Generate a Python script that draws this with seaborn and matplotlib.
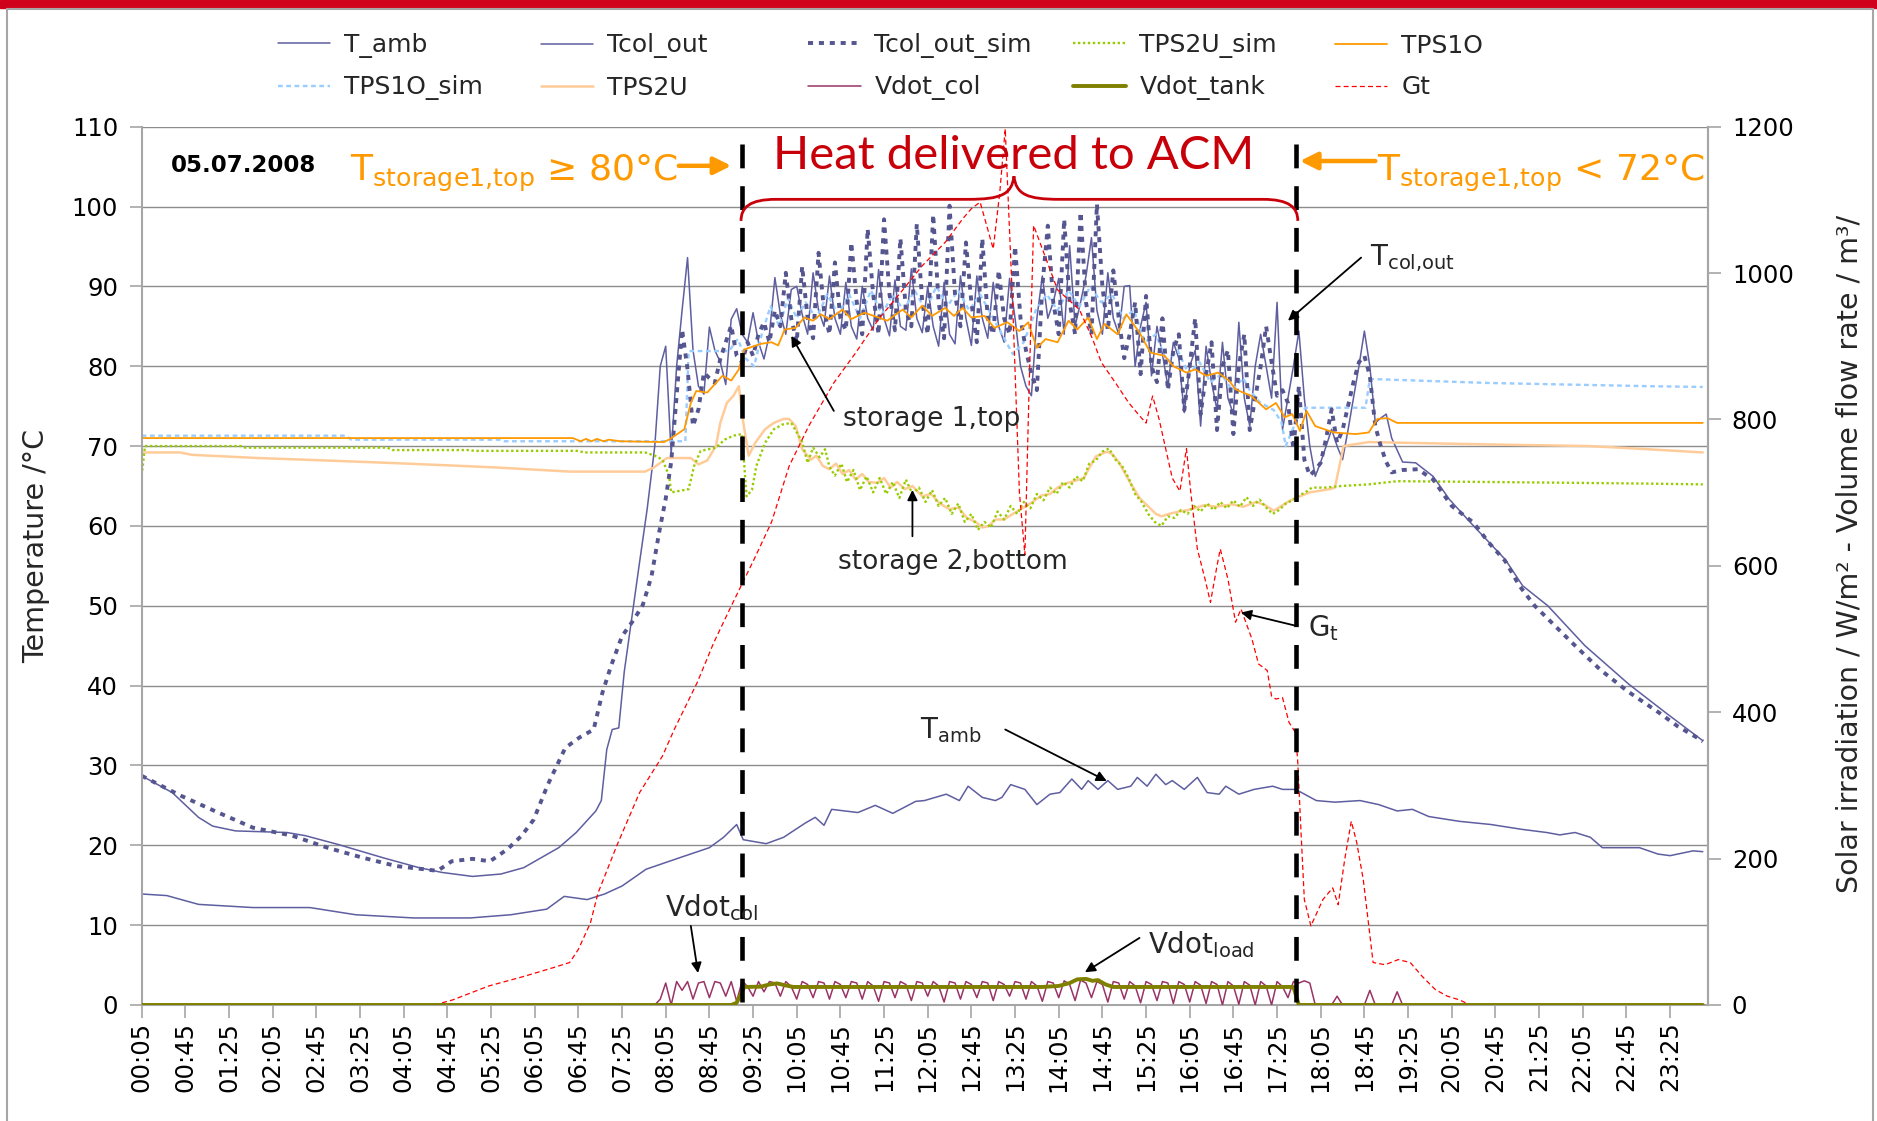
import numpy as np
import pandas as pd
import matplotlib
matplotlib.use("Agg")
import matplotlib.pyplot as plt
import seaborn as sns
from matplotlib.path import Path
from matplotlib.patches import PathPatch, Rectangle

# ---------------------------------------------------------------- data
# time in minutes after midnight (5-minute categories), 05.07.2008
XTICK_MIN = [5 + 40 * i for i in range(36)]
XTICK_LABELS = ["00:05", "00:45", "01:25", "02:05", "02:45", "03:25", "04:05", "04:45",
                "05:25", "06:05", "06:45", "07:25", "08:05", "08:45", "09:25", "10:05",
                "10:45", "11:25", "12:05", "12:45", "13:25", "14:05", "14:45", "15:25",
                "16:05", "16:45", "17:25", "18:05", "18:45", "19:25", "20:05", "20:45",
                "21:25", "22:05", "22:45", "23:25"]
TEMP_TICKS = [0, 10, 20, 30, 40, 50, 60, 70, 80, 90, 100, 110]
RIGHT_TICKS = [0, 200, 400, 600, 800, 1000, 1200]

T_AMB = [(5, 13.9), (28, 13.7), (57, 12.6), (107, 12.2), (159, 12.2), (201, 11.3), (254, 10.9),
         (306, 10.9), (343, 11.3), (376, 12.0), (392, 13.6), (413, 13.2), (429, 13.9), (445, 14.9),
         (467, 17.0), (499, 18.5), (525, 19.7), (538, 21.0), (550, 22.6), (556, 20.7), (577, 20.2),
         (593, 21.0), (613, 22.8), (622, 23.5), (630, 22.5), (637, 24.5), (661, 24.1), (677, 25.0),
         (693, 24.0), (714, 25.5), (722, 25.6), (742, 26.4), (754, 25.6), (762, 27.4), (775, 26.0),
         (787, 25.6), (793, 26.0), (801, 27.6), (814, 27.0), (825, 25.1), (837, 26.4), (846, 26.6),
         (857, 28.3), (866, 27.0), (872, 28.1), (881, 27.0), (890, 28.1), (899, 27.0), (911, 27.4),
         (917, 28.5), (926, 27.4), (934, 28.9), (943, 27.6), (949, 28.1), (960, 27.0), (972, 28.5),
         (981, 26.6), (992, 26.4), (998, 27.4), (1010, 26.4), (1024, 27.0), (1041, 27.4),
         (1050, 27.0), (1062, 27.0), (1081, 25.6), (1098, 25.4), (1121, 25.6), (1138, 25.1),
         (1155, 24.3), (1169, 24.5), (1184, 23.6), (1212, 23.0), (1241, 22.6), (1269, 22.0),
         (1292, 21.6), (1304, 21.3), (1318, 21.6), (1332, 21.0), (1343, 19.7), (1377, 19.7),
         (1394, 18.9), (1405, 18.7), (1426, 19.3), (1435, 19.2)]

TCOL_OUT_EARLY = [(5, 28.7), (33, 26.6), (57, 23.5), (70, 22.4), (91, 21.8), (138, 21.6),
                  (155, 21.2), (185, 20.1), (227, 18.4), (259, 17.2), (280, 16.6), (308, 16.1),
                  (334, 16.4), (355, 17.2), (387, 19.7), (403, 21.6), (421, 24.3), (426, 25.6),
                  (431, 32.0), (436, 34.5), (442, 34.7), (447, 41.7), (461, 55.4), (468, 62.1)]
TCOL_OUT_DAY_START = 475          # 5-minute values from 07:55
TCOL_OUT_DAY = [70, 80, 82.5, 69, 80, 87, 93.6, 82, 77.5, 76.5, 84.9, 82,
                80.5, 77.7, 85.9, 87.2, 84, 83, 86.7, 83, 80.9, 84, 91.1, 86.5,
                84, 89.6, 90, 86.5, 84, 91.7, 87, 85, 91.3, 86, 84, 90.5,
                85, 83.4, 90, 86, 84.5, 92.1, 86, 83.8, 90.8, 85, 84.5, 92.2,
                86, 84.2, 90, 85, 82.5, 90.5, 84, 82.8, 91.3, 86, 82.6, 91.3,
                86, 83.5, 90.5, 85, 83, 91, 86, 80, 77.5, 76.3, 86, 91.3,
                86, 88, 91, 84, 95.1, 85, 88, 91.3, 96.1, 87, 84, 91.7,
                86, 84, 90, 90.1, 80, 85, 88, 78.8, 85, 81.5, 77.5, 83,
                81, 74.2, 80, 82, 72.5, 82.5, 78, 74.5, 83, 76, 74, 85.5,
                76, 72.5, 80, 84, 80, 76, 88, 72.1, 76, 80, 84.4, 76,
                70, 66.2, 68, 70, 72.1, 70, 68.3, 72, 76, 80, 84.4, 80,
                72.9, 73.5, 74, 71]
TCOL_OUT_LATE = [(1160, 68.0), (1172, 67.9), (1188, 66.2), (1203, 63.3), (1225, 60.0),
                 (1254, 55.8), (1270, 52.5), (1293, 50.0), (1327, 45.0), (1367, 40.2),
                 (1401, 36.6), (1435, 33.1)]

TCOL_SIM_EARLY = [(5, 28.7), (41, 26.2), (75, 24.1), (107, 22.2), (143, 21.2), (175, 19.7),
                  (206, 18.5), (238, 17.4), (276, 16.8), (289, 18.0), (308, 18.3), (324, 18.0),
                  (340, 19.5), (353, 21.2), (364, 23.2), (377, 27.6), (385, 29.9), (393, 32.2),
                  (406, 33.5), (419, 34.5), (427, 39.1), (435, 42.5), (445, 46.2), (456, 48.3),
                  (464, 50.1), (472, 53.7), (479, 59.2), (485, 63.4)]
TCOL_SIM_DAY_START = 490          # 5-minute values from 08:10
TCOL_SIM_DAY = [68, 76.3, 84.6, 79.6, 72.5, 74.6, 79.2, 78.5, 77.9, 80.9, 83, 85.1,
                81.3, 80.5, 83, 81.3, 84, 85.5, 83, 87, 85, 91.7, 86, 83,
                92.5, 86, 83.5, 94.2, 87, 84, 93, 86, 84.5, 95.5, 88, 84,
                97.2, 89, 84, 98.4, 89, 84.5, 96, 87, 85, 97.8, 88, 84,
                99, 88, 83.5, 100.1, 89, 85, 95.5, 88, 83, 96, 86, 84,
                92, 86, 84, 95, 86, 82, 79, 77, 90, 97.6, 88, 84,
                98.4, 88, 84, 99.3, 88, 84, 100.3, 90, 84.5, 92, 86, 81,
                84, 88, 79, 88.8, 80, 78, 86, 77, 82, 84, 74.5, 80,
                86, 74, 79, 83, 72, 80, 82, 71.5, 80, 84, 72, 76,
                80, 85, 80.5, 76.3, 77, 75.4, 69.6, 77.5, 68.3, 66.3, 67, 67.9,
                71, 74.6, 70.4, 72, 75, 78, 80.5, 81.3, 78.8, 72.5, 70, 68,
                66.7]
TCOL_SIM_LATE = [(1160, 67.0), (1174, 67.1), (1188, 65.8), (1205, 62.5), (1225, 60.4),
                 (1239, 57.9), (1254, 55.6), (1267, 52.5), (1281, 50.0), (1315, 45.4),
                 (1341, 42.0), (1366, 39.3), (1395, 36.6), (1412, 34.9), (1432, 33.3), (1435, 33.0)]

TPS1O = [(5, 71.0), (400, 71.0), (407, 70.6), (412, 70.9), (417, 70.6), (422, 70.9), (428, 70.6),
         (433, 70.8), (443, 70.6), (483, 70.5), (488, 70.8), (502, 72.1), (508, 75.4), (513, 76.9),
         (523, 76.7), (531, 77.9), (537, 78.8), (545, 78.2), (552, 79.6), (557, 82.1), (572, 82.8),
         (582, 83.0), (588, 82.6), (594, 84.6), (604, 84.8), (612, 86.1), (620, 85.7), (627, 86.5),
         (635, 85.9), (647, 87.1), (655, 85.9), (667, 86.7), (680, 86.1), (688, 85.7), (702, 87.1),
         (710, 86.1), (720, 87.6), (729, 86.3), (741, 87.3), (749, 86.3), (757, 87.3), (765, 86.1),
         (777, 86.3), (786, 84.8), (798, 85.5), (809, 84.4), (817, 85.5), (825, 82.3), (833, 83.4),
         (844, 83.0), (854, 85.7), (862, 84.6), (872, 86.1), (880, 83.4), (887, 85.3), (899, 84.0),
         (907, 86.5), (919, 84.2), (929, 81.7), (942, 81.3), (950, 80.0), (962, 79.2), (970, 79.6),
         (980, 78.8), (991, 79.2), (1001, 78.2), (1007, 77.1), (1021, 76.3), (1035, 74.6),
         (1044, 75.4), (1052, 73.6), (1059, 74.0), (1066, 71.9), (1072, 74.4), (1080, 72.5),
         (1097, 71.7), (1117, 71.5), (1129, 71.7), (1137, 73.4), (1146, 73.5), (1155, 72.9),
         (1435, 72.9)]

TPS1O_SIM = [(5, 71.3), (192, 71.3), (197, 70.8), (332, 70.8), (337, 70.6), (503, 70.6),
             (506, 81.9), (543, 81.9), (551, 83.4), (558, 81.0), (566, 80.0), (573, 84.0),
             (581, 87.5), (589, 85.0), (597, 88.5), (605, 86.0), (613, 88.0), (623, 86.0),
             (633, 89.0), (643, 86.5), (653, 89.0), (663, 86.0), (673, 89.5), (683, 86.5),
             (693, 89.0), (703, 87.0), (713, 89.5), (723, 87.0), (733, 90.0), (743, 87.5),
             (753, 89.5), (763, 87.0), (773, 89.0), (783, 86.5), (793, 84.0), (803, 81.5),
             (813, 83.0), (824, 87.0), (834, 89.0), (844, 87.0), (854, 89.5), (864, 87.5),
             (874, 90.0), (884, 88.0), (894, 89.0), (904, 86.0), (914, 87.0), (924, 83.0),
             (934, 84.0), (944, 80.5), (954, 82.0), (964, 79.0), (974, 80.5), (984, 78.0),
             (994, 79.0), (1004, 77.0), (1014, 78.5), (1020, 77.0), (1029, 75.5), (1042, 74.5),
             (1049, 73.0), (1053, 70.0), (1058, 71.7), (1064, 73.5), (1071, 74.8), (1126, 74.8),
             (1130, 78.4), (1239, 77.9), (1385, 77.5), (1435, 77.4)]

TPS2U = [(5, 69.2), (40, 69.2), (51, 68.9), (112, 68.5), (153, 68.3), (230, 67.9), (300, 67.5),
         (332, 67.3), (397, 66.8), (466, 66.8), (474, 67.3), (486, 68.5), (508, 68.5), (515, 67.7),
         (523, 68.2), (531, 70.0), (535, 72.9), (541, 75.4), (547, 76.3), (552, 77.5), (556, 73.0),
         (561, 68.8), (567, 70.4), (576, 72.1), (584, 72.9), (593, 73.4), (598, 73.4), (604, 72.5),
         (610, 69.6), (618, 68.3), (623, 68.8), (629, 67.5), (635, 67.1), (641, 67.8), (647, 66.5),
         (653, 67.0), (659, 65.8), (665, 66.5), (671, 65.5), (679, 65.4), (685, 66.0), (691, 64.8),
         (697, 65.5), (704, 64.6), (711, 65.0), (720, 63.7), (728, 64.0), (736, 62.8), (745, 62.1),
         (753, 62.3), (761, 61.0), (769, 60.5), (775, 59.8), (781, 60.0), (787, 60.8), (795, 60.8),
         (803, 61.5), (813, 62.3), (821, 63.0), (829, 63.8), (837, 64.0), (844, 64.8), (851, 65.3),
         (859, 65.6), (868, 66.0), (874, 67.5), (879, 68.7), (884, 69.0), (889, 69.3), (894, 69.0),
         (900, 68.0), (906, 66.5), (911, 65.3), (919, 63.5), (928, 62.3), (934, 61.5), (939, 61.2),
         (946, 61.5), (955, 61.8), (964, 62.0), (971, 62.3), (979, 62.6), (989, 62.4), (1004, 62.7),
         (1014, 62.4), (1026, 63.0), (1034, 62.6), (1042, 61.9), (1049, 62.5), (1056, 63.1),
         (1064, 63.6), (1075, 64.2), (1093, 64.6), (1098, 64.8), (1106, 70.0), (1115, 70.2),
         (1129, 70.5), (1239, 70.2), (1331, 70.0), (1385, 69.6), (1435, 69.2)]

TPS2U_SIM = [(5, 66.3), (8, 70.0), (96, 70.0), (100, 69.8), (230, 69.8), (235, 69.5), (304, 69.5),
             (310, 69.4), (405, 69.4), (410, 69.2), (466, 69.2), (475, 68.8), (482, 68.3),
             (488, 66.3), (490, 64.2), (506, 64.6), (511, 67.5), (517, 69.4), (531, 69.8),
             (539, 70.8), (547, 71.3), (555, 71.5), (559, 63.7), (564, 64.5), (568, 67.5),
             (576, 70.4), (584, 72.1), (592, 72.7), (600, 72.9), (606, 71.5), (610, 70.5),
             (615, 67.9), (620, 69.8), (626, 68.6), (631, 69.6), (635, 67.4), (640, 66.3),
             (646, 67.8), (651, 65.5), (657, 67.0), (663, 64.5), (669, 66.2), (675, 64.2),
             (681, 66.0), (687, 64.0), (693, 65.5), (699, 63.5), (705, 65.8), (711, 64.0),
             (717, 64.8), (723, 63.0), (729, 64.5), (735, 62.5), (741, 63.5), (747, 61.5),
             (753, 62.8), (759, 60.5), (765, 61.5), (771, 59.5), (777, 60.5), (783, 59.8),
             (789, 61.8), (795, 60.8), (801, 62.5), (807, 61.5), (813, 63.0), (819, 62.2),
             (825, 64.0), (831, 63.2), (837, 64.8), (843, 64.0), (849, 65.5), (855, 64.8),
             (861, 66.2), (867, 65.6), (873, 67.8), (879, 68.2), (885, 69.3), (891, 69.7),
             (897, 68.3), (903, 67.5), (909, 66.0), (915, 64.0), (921, 63.0), (927, 61.5),
             (933, 60.5), (939, 60.0), (945, 61.2), (951, 61.0), (957, 62.0), (963, 61.5),
             (969, 62.5), (975, 61.8), (981, 62.8), (987, 62.0), (993, 63.0), (999, 62.2),
             (1005, 63.2), (1011, 62.4), (1017, 63.6), (1023, 62.5), (1029, 63.3), (1035, 62.3),
             (1041, 61.5), (1047, 62.0), (1053, 62.8), (1059, 63.2), (1065, 63.8), (1071, 64.2),
             (1077, 64.8), (1089, 64.8), (1104, 65.0), (1129, 65.2), (1155, 65.6), (1239, 65.5),
             (1384, 65.3), (1435, 65.2)]

# right axis: irradiation (W/m2) and volume flow rates
G_T = [(5, 0), (273, 0), (290, 7), (323, 26), (355, 39), (382, 51), (397, 58), (405, 76),
       (416, 112), (423, 153), (440, 217), (461, 290), (482, 340), (493, 377), (514, 441),
       (529, 495), (545, 545), (566, 609), (582, 660), (598, 736), (616, 791), (639, 850),
       (659, 891), (680, 937), (700, 973), (720, 1010), (741, 1042), (757, 1074), (765, 1088),
       (773, 1097), (779, 1065), (785, 1033), (791, 1110), (796, 1197), (803, 950), (809, 700),
       (814, 615), (818, 850), (822, 1065), (844, 977), (864, 950), (876, 910), (884, 878),
       (897, 850), (909, 823), (919, 805), (925, 795), (931, 832), (937, 800), (949, 720),
       (956, 702), (962, 760), (966, 700), (972, 623), (979, 582), (984, 550), (990, 600),
       (993, 623), (1000, 582), (1007, 523), (1012, 541), (1022, 500), (1028, 466), (1036, 457),
       (1040, 422), (1044, 418), (1050, 420), (1056, 386), (1062, 372), (1064, 331), (1067, 235),
       (1070, 144), (1076, 108), (1087, 144), (1096, 160), (1101, 137), (1107, 199), (1113, 251),
       (1118, 222), (1124, 171), (1133, 58), (1144, 55), (1156, 62), (1167, 58), (1178, 39),
       (1190, 21), (1201, 12), (1212, 7), (1222, 0), (1435, 0)]

VDOT_COL_DAY_START = 470          # 5-minute values from 07:50
VDOT_COL_DAY = [0, 0, 8, 30, 0, 32, 20, 32, 8, 30, 32, 10,
                32, 30, 12, 32, 5, 33, 25, 12, 32, 18, 32, 30,
                12, 32, 25, 8, 32, 28, 10, 32, 30, 8, 32, 28,
                10, 32, 30, 8, 32, 26, 5, 32, 30, 10, 32, 28,
                6, 32, 30, 12, 32, 26, 4, 32, 30, 8, 32, 28,
                10, 32, 30, 6, 32, 28, 12, 32, 30, 8, 32, 26,
                5, 32, 30, 10, 33, 28, 6, 34, 30, 10, 32, 28,
                4, 32, 30, 8, 32, 26, 3, 32, 28, 6, 32, 30,
                2, 32, 28, 4, 32, 27, 2, 32, 28, 0, 32, 26,
                1, 32, 27, 0, 32, 26, 0, 32, 25, 10, 32, 30,
                33, 30, 0, 0, 0, 0, 12, 0, 0, 0, 0, 0,
                20, 0, 0, 0, 0, 18, 0]
VDOT_COL_EDGES = [(5, 0), (1435, 0)]

VDOT_TANK = [(5, 0), (545, 0), (550, 3), (557, 24.6), (572, 25), (580, 28), (587, 29.5),
             (594, 27), (602, 24.6), (830, 24.6), (845, 26), (855, 30), (862, 35), (870, 35.6),
             (876, 33), (881, 34), (888, 28), (895, 24.6), (1060, 24.6), (1063, 10), (1065, 0),
             (1435, 0)]

EVENT_TIMES = [555, 1062]        # ACM start / stop (dashed lines)

# ---------------------------------------------------------------- style
sns.set_theme(style="white")
plt.rcParams['font.family'] = ['DejaVu Sans']
plt.rcParams['mathtext.default'] = 'regular'

LEFT_MAX, RIGHT_MAX = 110, 1200


def unzip(pairs):
    a = np.array(pairs, dtype=float)
    return a[:, 0], a[:, 1]


def dense(start, values):
    v = np.array(values, dtype=float)
    return start + 5 * np.arange(len(v)), v


def draw(axis, t, v, label, **kw):
    sns.lineplot(x=t, y=v, ax=axis, estimator=None, sort=False, legend=False, **kw)
    ln = axis.lines[-1]
    ln.set_label(label)
    return ln


fig = plt.figure(figsize=(18.77, 11.21), dpi=100)
ax = fig.add_axes([0.0755, 0.1035, 0.8346, 0.7835])
ax2 = ax.twinx()

# primary axis series
t, v = unzip(T_AMB)
h_tamb = draw(ax, t, v, "T_amb", color="#5E5EA0", lw=1.1)

te, ve = unzip(TCOL_OUT_EARLY)
td, vd = dense(TCOL_OUT_DAY_START, TCOL_OUT_DAY)
tl, vl = unzip(TCOL_OUT_LATE)
h_tcol = draw(ax, np.concatenate([te, td, tl]), np.concatenate([ve, vd, vl]), "Tcol_out",
              color="#5E5EA0", lw=1.1)

t, v = unzip(TPS2U)
h_tps2u = draw(ax, t, v, "TPS2U", color="#FFCC99", lw=1.8)

t, v = unzip(TPS2U_SIM)
h_tps2u_sim = draw(ax, t, v, "TPS2U_sim", color="#99CC00", lw=1.7, linestyle=(0, (1.0, 1.1)))

t, v = unzip(TPS1O_SIM)
h_tps1o_sim = draw(ax, t, v, "TPS1O_sim", color="#99CCFF", lw=1.7, linestyle=(0, (2.0, 1.5)))

te, ve = unzip(TCOL_SIM_EARLY)
td, vd = dense(TCOL_SIM_DAY_START, TCOL_SIM_DAY)
tl, vl = unzip(TCOL_SIM_LATE)
h_tcol_sim = draw(ax, np.concatenate([te, td, tl]), np.concatenate([ve, vd, vl]), "Tcol_out_sim",
                  color="#55558F", lw=2.8, linestyle=(0, (1.3, 1.5)))

t, v = unzip(TPS1O)
h_tps1o = draw(ax, t, v, "TPS1O", color="#FF9900", lw=1.3)

# secondary axis series
t, v = unzip(G_T)
h_gt = draw(ax2, t, v, "Gt", color="#FF0000", lw=0.9, linestyle=(0, (4, 2.5)))

ta, va = unzip(VDOT_COL_EDGES)
td, vd = dense(VDOT_COL_DAY_START, VDOT_COL_DAY)
h_vcol = draw(ax2, np.concatenate([ta[:1], td, ta[1:]]), np.concatenate([va[:1], vd, va[1:]]),
              "Vdot_col", color="#993366", lw=1.1)

t, v = unzip(VDOT_TANK)
h_vtank = draw(ax2, t, v, "Vdot_tank", color="#808000", lw=2.8)

# dashed event lines (drawn on top)
dash_top = 107.8 * RIGHT_MAX / LEFT_MAX
for et in EVENT_TIMES:
    ax2.plot([et, et], [dash_top, 0], color="black", lw=3.3, dashes=(5.2, 3.9),
             dash_capstyle="butt", zorder=10)

# axes cosmetics
ax.set_xlim(5, 1440)
ax.set_ylim(0, LEFT_MAX)
ax2.set_ylim(0, RIGHT_MAX)
ax.set_xticks(XTICK_MIN)
ax.set_xticklabels(XTICK_LABELS, rotation=90)
ax.set_yticks(TEMP_TICKS)
ax2.set_yticks(RIGHT_TICKS)
ax.set_xlabel("")
ax.set_ylabel("")
ax2.set_ylabel("")
ax.grid(axis="y", color="#8C8C8C", lw=1.0)
ax.grid(axis="x", visible=False)
ax.set_axisbelow(True)
ax.tick_params(axis="both", bottom=True, left=True, length=9, width=1.2, color="#A6A6A6",
               labelsize=17.5, labelcolor="black", direction="out")
ax.tick_params(axis="x", pad=3)
ax.tick_params(axis="y", pad=8)
ax2.tick_params(axis="y", right=True, length=9, width=1.2, color="#A6A6A6",
                labelsize=17.5, labelcolor="black", pad=8, direction="out")
for sp in ["top"]:
    ax.spines[sp].set_visible(False)
for sp in ["top", "left", "bottom"]:
    ax2.spines[sp].set_visible(False)
for a, sps in [(ax, ["left", "bottom", "right"]), (ax2, ["right"])]:
    for sp in sps:
        a.spines[sp].set_color("#A6A6A6")
        a.spines[sp].set_linewidth(1.5)

# ---------------------------------------------------------------- annotations
TD = ax.transData
arrow_k = dict(arrowstyle="-|>", color="black", lw=1.3, mutation_scale=15, shrinkA=0, shrinkB=0)
arrow_o = dict(arrowstyle="-|>", color="#FF9900", lw=3.2, mutation_scale=26, shrinkA=0, shrinkB=0)

ax2.text(32, 105.1, "05.07.2008", transform=TD, fontsize=16.5, fontweight="bold",
         va="center", ha="left", color="black", zorder=12)
ax2.text(196, 103.2, r"$T_{storage1{,}top}$ ≥ 80°C", transform=TD, fontsize=26,
         color="#FF9900", va="baseline", ha="left", zorder=12)
ax2.annotate("", xy=(545, 105.1), xycoords=TD, xytext=(497, 105.1), textcoords=TD,
             arrowprops=arrow_o, zorder=12)
ax2.text(1137, 103.2, r"$T_{storage1{,}top}$ < 72°C", transform=TD, fontsize=26,
         color="#FF9900", va="baseline", ha="left", zorder=12)
ax2.annotate("", xy=(1066, 105.7), xycoords=TD, xytext=(1135, 105.7), textcoords=TD,
             arrowprops=arrow_o, zorder=12)
ax2.text(804, 104.7, "Heat delivered to ACM", transform=TD, fontsize=34, family="Lato",
         color="#C8000A", va="baseline", ha="center", zorder=12)

# curly brace
xL, xR, xm = 554, 1064, 804
y0, y1, y2 = 98.2, 100.9, 103.8
verts = [(xL, y0), (xL, y1 - 1.0), (xL + 8, y1), (xL + 32, y1),
         (xm - 42, y1),
         (xm - 12, y1), (xm - 2, y1 + 0.6), (xm, y2),
         (xm + 2, y1 + 0.6), (xm + 12, y1), (xm + 42, y1),
         (xR - 32, y1),
         (xR - 8, y1), (xR, y1 - 1.0), (xR, y0)]
codes = [Path.MOVETO, Path.CURVE4, Path.CURVE4, Path.CURVE4, Path.LINETO,
         Path.CURVE4, Path.CURVE4, Path.CURVE4, Path.CURVE4, Path.CURVE4, Path.CURVE4,
         Path.LINETO, Path.CURVE4, Path.CURVE4, Path.CURVE4]
ax2.add_patch(PathPatch(Path(verts, codes), fill=False, edgecolor="#C8000A", lw=2.0,
                        transform=TD, zorder=11))

ax2.text(647, 73.4, "storage 1,top", transform=TD, fontsize=19, va="center", ha="left", zorder=12)
ax2.annotate("", xy=(600, 83.8), xycoords=TD, xytext=(639, 74.4), textcoords=TD,
             arrowprops=arrow_k, zorder=12)
ax2.text(643, 55.5, "storage 2,bottom", transform=TD, fontsize=19, va="center", ha="left", zorder=12)
ax2.annotate("", xy=(711, 64.5), xycoords=TD, xytext=(711, 58.7), textcoords=TD,
             arrowprops=arrow_k, zorder=12)
ax2.text(1130, 92.6, r"$T_{col{,}out}$", transform=TD, fontsize=20, va="baseline", ha="left",
         zorder=12)
ax2.annotate("", xy=(1055, 85.7), xycoords=TD, xytext=(1122, 93.6), textcoords=TD,
             arrowprops=arrow_k, zorder=12)
ax2.text(1073, 46.2, r"$G_{t}$", transform=TD, fontsize=20, va="baseline", ha="left", zorder=12)
ax2.annotate("", xy=(1012, 49.15), xycoords=TD, xytext=(1062, 47.5), textcoords=TD,
             arrowprops=arrow_k, zorder=12)
ax2.text(718, 33.4, r"$T_{amb}$", transform=TD, fontsize=20, va="baseline", ha="left", zorder=12)
ax2.annotate("", xy=(889, 28.05), xycoords=TD, xytext=(796, 34.5), textcoords=TD,
             arrowprops=arrow_k, zorder=12)
ax2.text(484, 11.1, r"$Vdot_{col}$", transform=TD, fontsize=20, va="baseline", ha="left", zorder=12)
ax2.annotate("", xy=(514.6, 4.0), xycoords=TD, xytext=(508, 9.9), textcoords=TD,
             arrowprops=arrow_k, zorder=12)
ax2.text(927, 6.5, r"$Vdot_{load}$", transform=TD, fontsize=20, va="baseline", ha="left", zorder=12)
ax2.annotate("", xy=(869, 4.1), xycoords=TD, xytext=(919, 8.4), textcoords=TD,
             arrowprops=arrow_k, zorder=12)

# axis titles
fig.text(0.0192, 0.513, "Temperature /°C", rotation=90, fontsize=20.5, va="center", ha="center")
fig.text(0.9851, 0.506, "Solar irradiation / W/m² - Volume flow rate / m³/", rotation=90,
         fontsize=20.5, va="center", ha="center")

# legend: five columns of two entries, Excel-like fixed column positions
cols = [(h_tamb, h_tps1o_sim), (h_tcol, h_tps2u), (h_tcol_sim, h_vcol),
        (h_tps2u_sim, h_vtank), (h_tps1o, h_gt)]
col_x = [0.1481, 0.2882, 0.4305, 0.5717, 0.7112]
for x0, hs in zip(col_x, cols):
    fig.legend(handles=list(hs), loc="center left", bbox_to_anchor=(x0, 0.9405), frameon=False,
               fontsize=18, handlelength=2.1, handletextpad=0.55, labelspacing=0.7,
               borderpad=0, borderaxespad=0)

# frame and header band
fig.add_artist(Rectangle((0, 1 - 7.5 / 1121), 1, 7.5 / 1121, transform=fig.transFigure,
                         color="#D0021B", zorder=0))
fig.add_artist(Rectangle((7 / 1877, -0.01), (1872.5 - 7) / 1877, 1 - 8.5 / 1121 + 0.01,
                         transform=fig.transFigure, fill=False, edgecolor="#A6A6A6", lw=1.5))

fig.savefig("out.png", dpi=100)
